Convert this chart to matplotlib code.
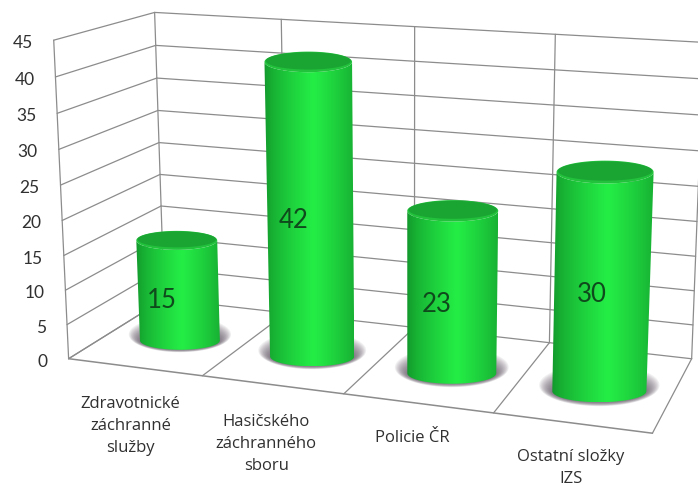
import numpy as np
import matplotlib
matplotlib.use('Agg')
import matplotlib.pyplot as plt
from matplotlib.patches import Polygon

plt.rcParams['font.family'] = ['Lato', 'DejaVu Sans']

# Data
categories = ['Zdravotnické\nzáchranné\nslužby', 'Hasičského\nzáchranného\nsboru',
              'Policie ČR', 'Ostatní složky\nIZS']
values = [15, 42, 23, 30]
y_ticks = [0, 5, 10, 15, 20, 25, 30, 35, 40, 45]

# Perspective of the box: (category pos, depth, value) -> pixel, fitted on its corners
calib_3d = np.array([[0, 0, 0], [1, 0, 0], [2, 0, 0], [3, 0, 0], [4, 0, 0],
                     [0, 1, 0], [3, 1, 0], [4, 1, 0],
                     [0, 0, 45], [0, 0, 25],
                     [0, 1, 45], [1, 1, 45], [2, 1, 45], [3, 1, 45], [4, 1, 45], [0, 1, 25]], float)
calib_px = np.array([[68, 357], [203, 374], [347, 394], [492, 414], [652, 435],
                     [163, 300], [549, 343], [692, 358],
                     [52, 41], [61, 185],
                     [155, 13], [282, 20], [415, 26], [557, 33], [702, 42], [159, 143]], float)

rows, rhs = [], []
for (u, d, v), (x, y) in zip(calib_3d, calib_px):
    rows.append([u, d, v, 1, 0, 0, 0, 0, -x*u, -x*d, -x*v])
    rows.append([0, 0, 0, 0, u, d, v, 1, -y*u, -y*d, -y*v])
    rhs += [x, y]
h = np.linalg.lstsq(np.array(rows), np.array(rhs), rcond=None)[0]
H = np.append(h, 1).reshape(3, 4)


def proj(u, d, v):
    u, d, v = np.broadcast_arrays(u, d, v)
    p = H @ np.stack([u, d, v, np.ones_like(u)]).astype(float)
    return np.stack([p[0]/p[2], p[1]/p[2]], axis=-1)


fig = plt.figure(figsize=(6.98, 4.87), dpi=100)
ax = fig.add_axes([0, 0, 1, 1])

grid_col = '#8c8c8c'
n = len(categories)
vmax = y_ticks[-1]


def seg(a, b, lw=0.9):
    pts = proj(*np.array([a, b]).T)
    ax.plot(pts[:, 0], pts[:, 1], color=grid_col, lw=lw, zorder=1, solid_capstyle='round')


# Walls
for t in y_ticks:
    seg((0, 0, t), (0, 1, t))
    seg((0, 1, t), (n, 1, t))
for i in range(n+1):
    seg((i, 1, 0), (i, 1, vmax))
    seg((i, 0, 0), (i, 1, 0))
seg((0, 0, 0), (0, 0, vmax))
seg((0, 0, 0), (n, 0, 0), 1.1)

# Tick labels
for t in y_ticks:
    x, y = proj(0, 0, t)
    ax.text(x-21, y+3, str(t), ha='right', va='center', fontsize=12.5, color='#303030')

# Cylinders (upright ellipses, like the 3D bars of the original)
r_u = 0.31
center_u = 0.54
depth = 0.42
squash = 0.235
edge = np.array([0x12, 0x96, 0x2b])/255
mid = np.array([0x24, 0xee, 0x46])/255
top_col = '#1aa532'
top_rim = '#22c23c'


def ellipse_at(i, val):
    c = proj(i+center_u, depth, val)
    l = proj(i+center_u-r_u, depth, val)
    r = proj(i+center_u+r_u, depth, val)
    return c, (r[0]-l[0])/2


th = np.linspace(0, 2*np.pi, 121)
for i, val in enumerate(values):
    cb, ab = ellipse_at(i, 0)
    ct, at = ellipse_at(i, val)

    # shadow on the floor
    for k in np.linspace(0, 1, 16):
        sx = cb[0]+(1.28-0.28*k)*ab*np.cos(th)
        sy = cb[1]-6*(1-k)+(1.9-0.9*k)*ab*squash*np.sin(th)
        ax.fill(sx, sy, color='#5e5362', alpha=0.08, lw=0, zorder=2)

    # body: horizontal gradient clipped to the cylinder outline
    low = np.linspace(np.pi, 0, 90)
    up = np.linspace(0, np.pi, 90)
    outline = np.vstack([
        np.c_[cb[0]+ab*np.cos(low), cb[1]+ab*squash*np.sin(low)],
        np.c_[ct[0]+at*np.cos(up), ct[1]+at*squash*np.sin(up)]])
    left, right = outline[:, 0].min(), outline[:, 0].max()
    pos = np.linspace(0, 1, 256)
    w = np.clip(1-np.abs(pos-0.55)/0.55, 0, 1)**0.7
    grad = (edge+(mid-edge)*w[:, None])[None, :, :]
    im = ax.imshow(grad, extent=[left, right, outline[:, 1].max(), outline[:, 1].min()],
                   aspect='auto', interpolation='bilinear', zorder=3)
    patch = Polygon(outline, closed=True, transform=ax.transData, fc='none', ec='none')
    ax.add_patch(patch)
    im.set_clip_path(patch)

    ax.fill(ct[0]+at*np.cos(th), ct[1]+at*squash*np.sin(th), color=top_rim, lw=0, zorder=4)
    ax.fill(ct[0]+0.97*at*np.cos(th), ct[1]-1+0.84*at*squash*np.sin(th), color=top_col, lw=0, zorder=5)

# Value labels
label_dx = [-17, -17, -16, -10]
label_level = [0.40, 0.47, 0.43, 0.45]
for i, val in enumerate(values):
    x, y = proj(i+center_u, depth, val*label_level[i])
    ax.text(x+label_dx[i], y, str(val), ha='center', va='center', fontsize=18.5,
            color='#0f4a1c', zorder=6)

# Category labels
cat_offset = [(-4, 59), (-6, 59), (-5, 35), (-1, 45)]
for i, name in enumerate(categories):
    x, y = proj(i+0.5, 0, 0)
    ax.text(x+cat_offset[i][0], y+cat_offset[i][1], name, ha='center', va='center', fontsize=12,
            color='#303030', linespacing=1.5, family=['Open Sans', 'DejaVu Sans'])

ax.set_xlim(0, 698)
ax.set_ylim(487, 0)
ax.axis('off')

fig.savefig('out.png', dpi=100)
